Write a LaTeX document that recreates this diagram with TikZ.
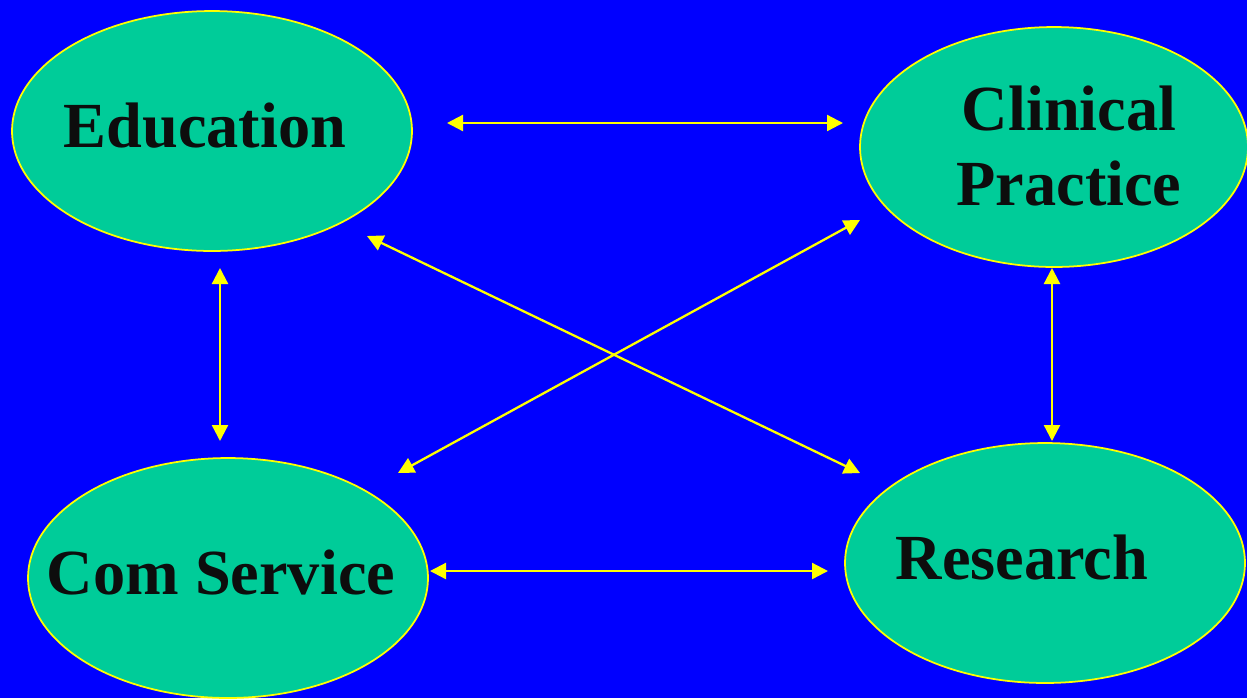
\documentclass[tikz,border=0pt]{standalone}
\usepackage{fontspec}
\setmainfont{Liberation Serif}
\usetikzlibrary{shapes.geometric,arrows.meta}
\definecolor{bgblue}{RGB}{0,0,255}
\definecolor{areagreen}{RGB}{0,204,153}
\definecolor{linkyellow}{RGB}{255,255,0}
\tikzset{
	area/.style={ellipse, draw=linkyellow, fill=areagreen, line width=1pt, inner sep=0pt, minimum width=8cm, minimum height=4.8cm},
	areatext/.style={font=\fontsize{36.6}{42.5}\selectfont\bfseries, text=black!95, align=center, inner sep=0pt},
	link/.style={linkyellow, line width=1.3pt, {Triangle[length=0.32cm,width=0.32cm]}-{Triangle[length=0.32cm,width=0.32cm]}}
}
\begin{document}
\begin{tikzpicture}[x=0.02cm, y=-0.02cm]
	\fill[bgblue] (0,0) rectangle (1247,698);
	\useasboundingbox (0,0) rectangle (1247,698);
	
	% the four areas
	\node (edu) at (212, 131) [area]{};
	\node (clin) at (1054, 147) [area, minimum width=7.76cm]{};
	\node (com) at (228, 578) [area]{};
	\node (res) at (1045, 563) [area]{};
	
	\node (edutext) at (205, 126) [areatext]{Education};
	\node (clintext) at (1069, 146) [areatext]{Clinical\\Practice};
	\node (comtext) at (221, 572) [areatext]{Com Service};
	\node (restext) at (1022, 557) [areatext]{Research};
	
	% arrow ends
	\coordinate (e1) at (447, 123);
	\coordinate (c1) at (843, 123);
	\coordinate (e2) at (220, 268);
	\coordinate (s2) at (220, 441);
	\coordinate (c3) at (1052, 268);
	\coordinate (r3) at (1052, 441);
	\coordinate (s4) at (430, 571);
	\coordinate (r4) at (828, 571);
	\coordinate (e5) at (367, 236);
	\coordinate (r5) at (860, 473);
	\coordinate (c6) at (860, 220);
	\coordinate (s6) at (398, 473);
	
	\draw[link] (e1)--(c1);
	\draw[link] (e2)--(s2);
	\draw[link] (c3)--(r3);
	\draw[link] (s4)--(r4);
	\draw[link] (e5)--(r5);
	\draw[link] (c6)--(s6);
\end{tikzpicture}
\end{document}
